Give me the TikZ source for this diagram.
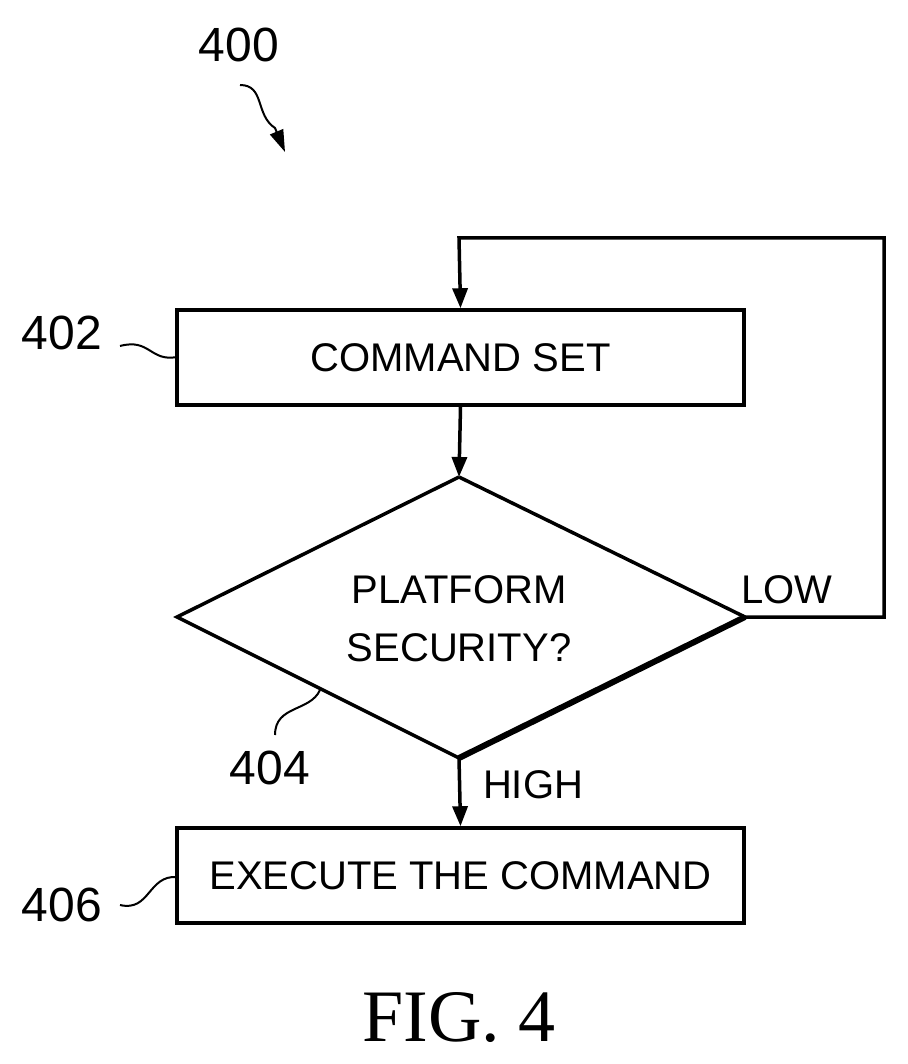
\documentclass[tikz,border=0pt]{standalone}
\usepackage{fontspec}
\setmainfont{Liberation Sans}
\newfontfamily\figfont{Liberation Serif}
\usetikzlibrary{arrows.meta}
\begin{document}
\begin{tikzpicture}[x=1pt,y=-1pt,line width=3.5pt,
  box/.style={draw,minimum width=567pt,minimum height=95pt,inner sep=0pt,font=\fontsize{40}{44}\selectfont},
  lbl/.style={font=\fontsize{48}{50}\selectfont,inner sep=0pt},
  txt/.style={font=\fontsize{40}{44}\selectfont,inner sep=0pt},
  arr/.style={-{Triangle[length=20pt,width=15pt]}},
  lead/.style={line width=2pt}]
\useasboundingbox (0,0) rectangle (907,1064);
\node[box] (b402) at (460.5,357.5) {COMMAND SET};
\node[box] (b406) at (460.5,875.5) {EXECUTE THE COMMAND};
\coordinate (dt) at (459,477);
\coordinate (dl) at (177,617);
\coordinate (dr) at (745,617);
\coordinate (db) at (459,758);
\draw[line join=miter] (dt) -- (dr) (dt) -- (dl) -- (db);
\draw[line width=6pt] (dr) -- (db);
\node[txt] (t1) at (459,590) {PLATFORM};
\node[txt] (t2) at (459,648) {SECURITY?};
\draw[arr] (b402.south) -- (dt);
\draw[arr] (db) -- (b406.north);
\coordinate (c1) at (884,617);
\coordinate (c2) at (884,238);
\coordinate (c3) at (459,238);
\draw[arr] (dr) -- (c1) -- (c2) -- (c3) -- (b402.north);
\node[txt] (low) at (787,590) {LOW};
\node[txt] (high) at (533,785) {HIGH};
\node[lbl] (n400) at (239,45) {400};
\coordinate (s0) at (240,85);
\coordinate (s1) at (285,152);
\draw[lead,-{Triangle[length=22pt,width=14pt]}] (s0) .. controls (265,85) and (255,115) .. (275,128) -- (s1);
\node[lbl] (n402) at (62,333) {402};
\draw[lead] (120,346) .. controls (150,338) and (150,362) .. (177,357);
\node[lbl] (n404) at (270,768) {404};
\draw[lead] (275,735) .. controls (275,705) and (310,712) .. (320,690);
\node[lbl] (n406) at (62,905) {406};
\draw[lead] (120,905) .. controls (150,912) and (148,875) .. (177,877);
\node[inner sep=0pt,font=\figfont\fontsize{74}{76}\selectfont] (fig) at (459,1018) {FIG. 4};
\end{tikzpicture}
\end{document}
